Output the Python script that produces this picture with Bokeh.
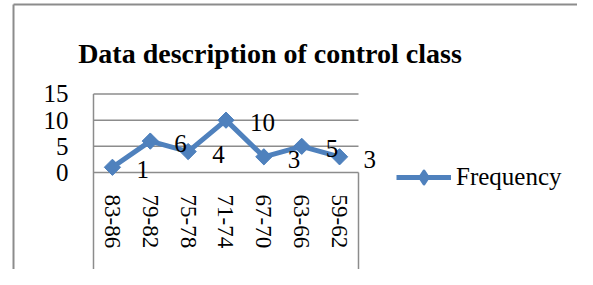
from bokeh.plotting import figure
from bokeh.models import (ColumnDataSource, Range1d, FixedTicker, LinearAxis,
                          LabelSet, Label, Legend, LegendItem)
from bokeh.core.properties import value
from bokeh.embed import file_html
from bokeh.resources import INLINE
import math

# ---- data ----
categories = ["83-86", "79-82", "75-78", "71-74", "67-70", "63-66", "59-62"]
frequency = [1, 6, 4, 10, 3, 5, 3]
y_ticks = [0, 5, 10, 15]
title_text = "Data description of control class"
series_name = "Frequency"

BLUE = "#4F81BD"
GRAY = "#8C8C8C"
FONT = "Liberation Serif"

n = len(categories)
xpos = [i + 0.5 for i in range(n)]          # band centres on a numeric category scale
src = ColumnDataSource(dict(x=xpos, val=frequency, lbl=[str(v) for v in frequency]))

W, H = 577, 269
p = figure(width=W, height=H, output_backend="svg", toolbar_location=None,
           x_range=Range1d(-2.4566, 12.785), y_range=Range1d(-18.535, 32.866),
           min_border_left=0, min_border_top=0, min_border_right=0, min_border_bottom=0,
           x_axis_location=None, y_axis_location=None)
p.outline_line_color = None
p.background_fill_color = "white"
p.border_fill_color = "white"
p.xgrid.visible = False
p.ygrid.visible = False

# value axis (labels only; the axis rule is drawn in the plot area)
yax = LinearAxis(ticker=FixedTicker(ticks=y_ticks))
yax.axis_line_color = None
yax.major_tick_line_color = None
yax.minor_tick_line_color = None
yax.major_label_standoff = -74
yax.major_label_text_font = FONT
yax.major_label_text_font_size = "25px"
yax.major_label_text_color = "black"
p.add_layout(yax, "left")

# category axis
xax = LinearAxis(ticker=FixedTicker(ticks=xpos),
                 major_label_overrides={x: c for x, c in zip(xpos, categories)})
xax.axis_line_color = None
xax.major_tick_line_color = None
xax.minor_tick_line_color = None
xax.major_label_orientation = "vertical"
xax.major_label_standoff = -81
xax.major_label_text_font = FONT
xax.major_label_text_font_size = "23px"
xax.major_label_text_color = "black"
p.add_layout(xax, "below")

ymin = p.y_range.start
# horizontal gridlines across the plot area, axis rules, and category-area side lines
p.segment(x0=[0] * len(y_ticks), x1=[n] * len(y_ticks), y0=y_ticks, y1=y_ticks,
          line_color=GRAY, line_width=1.5)
p.segment(x0=[0, n], x1=[0, n], y0=[max(y_ticks), 0], y1=[ymin, ymin],
          line_color=GRAY, line_width=1.5)

# outer chart border (left and top edges)
bx, by = -2.113, 32.10
p.segment(x0=[bx, bx], x1=[bx, p.x_range.end], y0=[by, by], y1=[ymin, by],
          line_color=GRAY, line_width=2)

# series
ln = p.line(x="x", y="val", source=src, line_color=BLUE, line_width=5)
# diamond used as the legend swatch (legend glyphs are drawn unrotated); hidden under the markers
key = p.scatter(x="x", y="val", source=src, marker="diamond", size=12, fill_color=BLUE,
                line_color=BLUE, line_width=3, line_join="round")
sc = p.scatter(x="x", y="val", source=src, marker="square", size=11.5, angle=math.pi / 4,
               fill_color=BLUE, line_color=BLUE)

labels = LabelSet(x="x", y="val", text="lbl", source=src, x_offset=24, y_offset=-11,
                  text_align="left", text_baseline="alphabetic",
                  text_font=value(FONT), text_font_size="25px", text_color="black")
p.add_layout(labels)

# title
p.add_layout(Label(x=4.662, y=22.74, text=title_text, text_align="center",
                   text_baseline="alphabetic", text_font=FONT,
                   text_font_size="28px", text_font_style="bold", text_color="black"))

legend = Legend(items=[LegendItem(label=series_name, renderers=[ln, key])],
                location=(396, 76), padding=0, margin=0, spacing=0,
                glyph_width=55, glyph_height=32, label_height=32, label_standoff=5,
                label_text_font=FONT, label_text_font_size="25px", label_text_color="black",
                border_line_color=None, background_fill_alpha=0)
p.add_layout(legend)

open("out.html", "w").write(file_html(p, INLINE))
